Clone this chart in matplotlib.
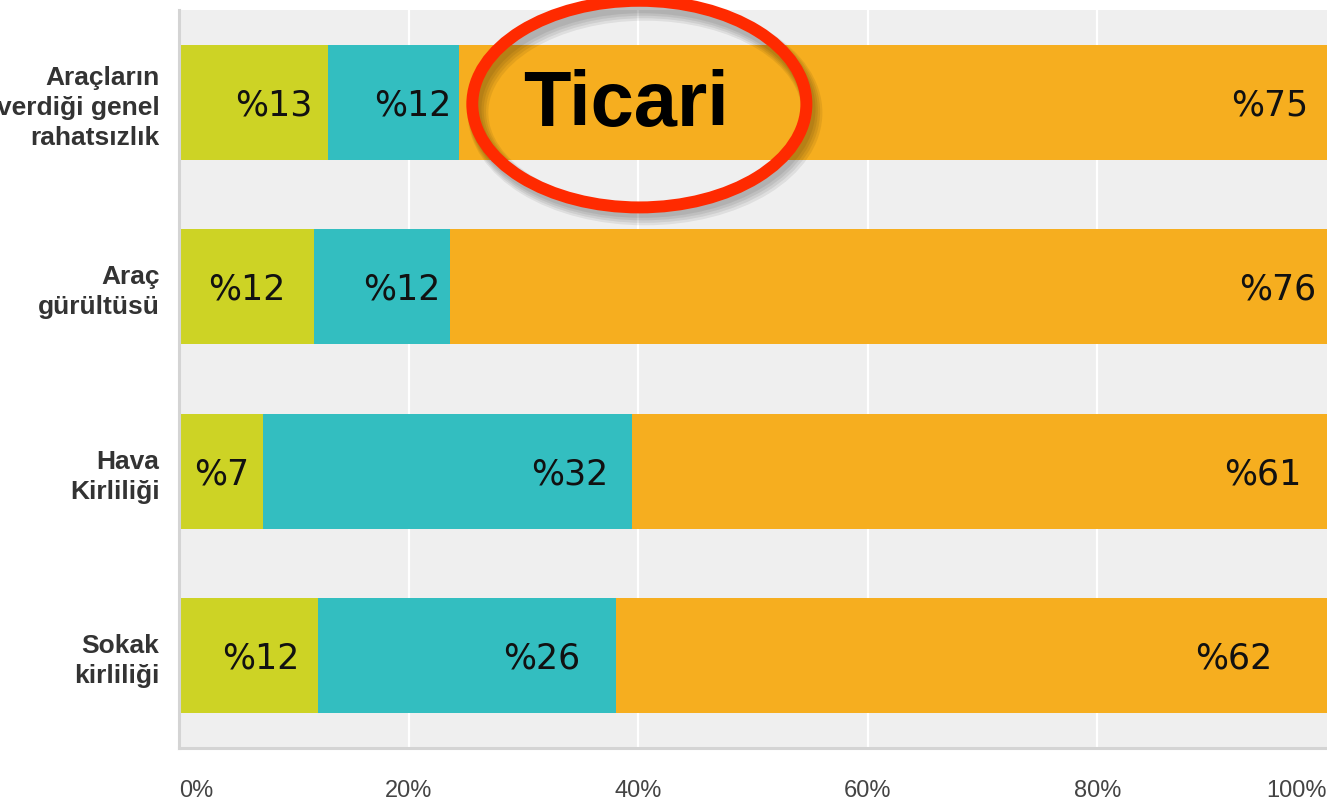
import matplotlib
matplotlib.use("Agg")
import matplotlib.pyplot as plt
from matplotlib.patches import Ellipse
import numpy as np

# categories, top to bottom
categories = ["Araçların\nverdiği genel\nrahatsızlık", "Araç\ngürültüsü", "Hava\nKirliliği", "Sokak\nkirliliği"]

# segment widths (percent)
green_vals = [13.0, 11.8, 7.3, 12.1]
teal_vals = [11.4, 11.8, 32.2, 26.0]
orange_vals = [75.6, 76.4, 60.5, 61.9]

# numbers printed on the bars
green_lbl = [13, 12, 7, 12]
teal_lbl = [12, 12, 32, 26]
orange_lbl = [75, 76, 61, 62]

x_ticks = [0, 20, 40, 60, 80, 100]
x_ticklabels = ["0%", "20%", "40%", "60%", "80%", "100%"]

# how far left of each segment end the label sits (percent)
lbl_shift = [[4.7, 5.9, 3.6, 5.0],
             [4.0, 4.2, 5.5, 6.5],
             [5.0, 4.3, 5.6, 8.1]]

colors = ["#cdd325", "#33bec0", "#f6ae1f"]

W, H = 1327, 810
fig = plt.figure(figsize=(W / 100, H / 100), dpi=100)
ax = fig.add_axes([179 / W, 1 - 748 / H, (1327 - 179) / W, (748 - 10) / H])
ax.set_facecolor("#efefef")

y = np.arange(len(categories))
series = [green_vals, teal_vals, orange_vals]
labels = [green_lbl, teal_lbl, orange_lbl]
left = np.zeros(len(categories))
for k, vals in enumerate(series):
    vals = np.array(vals)
    ax.barh(y, vals, left=left, height=0.625, color=colors[k], zorder=3)
    ends = left + vals
    for i in range(len(categories)):
        ax.text(ends[i] - lbl_shift[k][i], y[i] + 0.015, "%" + str(labels[k][i]),
                ha="center", va="center", fontsize=25, color="#111111",
                family="DejaVu Sans", zorder=5)
    left = ends

ax.set_xlim(0, 100)
ax.set_ylim(len(categories) - 0.5, -0.5)

for gx in x_ticks[1:-1]:
    ax.axvline(gx, color="white", lw=1.6, zorder=1)

ax.set_xticks(x_ticks)
ax.set_xticklabels(x_ticklabels, fontsize=17, color="#444444", family="Liberation Sans")
tl = ax.get_xticklabels()
tl[0].set_ha("left")
tl[-1].set_ha("right")
ax.tick_params(axis="x", length=0, pad=23)

ax.set_yticks(y)
ax.set_yticklabels(categories, fontsize=19, fontweight="bold", color="#333333",
                   family="Liberation Sans", linespacing=1.32)
ax.tick_params(axis="y", length=0, pad=14)

for s in ["top", "right"]:
    ax.spines[s].set_visible(False)
for s in ["left", "bottom"]:
    ax.spines[s].set_color("#d4d4d4")
    ax.spines[s].set_linewidth(2.2)
    ax.spines[s].set_zorder(4)

# "Ticari" callout with red ring
ax.text(38.9, 0.02, "Ticari", ha="center", va="center", fontsize=56,
        fontweight="bold", color="black", family="Liberation Sans", zorder=6)
for j in range(4):
    sh = Ellipse((40.1 + 0.25 + 0.08 * j, 0.016 + 0.022 + 0.006 * j), 29.1, 1.109,
                 fill=False, ec="black", lw=9 + 2 * j, alpha=0.07, zorder=6, clip_on=False)
    ax.add_patch(sh)
ring = Ellipse((40.1, 0.01), 29.1, 1.12, fill=False, ec="#ff2a00", lw=8.6,
               zorder=7, clip_on=False)
ax.add_patch(ring)

fig.savefig("out.png", dpi=100)
